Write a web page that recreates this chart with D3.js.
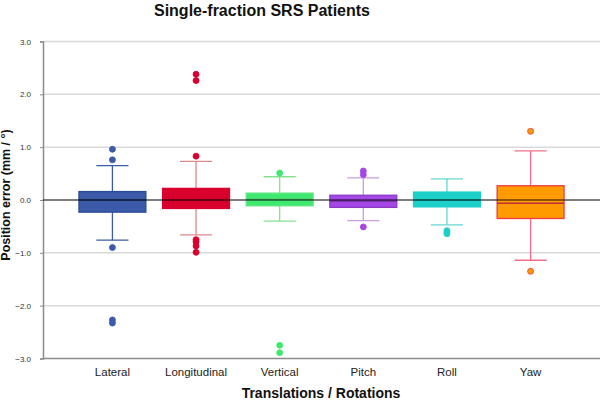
<!DOCTYPE html>
<html>
<head>
<meta charset="utf-8">
<script src="https://cdn.jsdelivr.net/npm/d3@7"></script>
<style>
  body { margin: 0; background: #fff; }
  svg text { font-family: Arial, "Liberation Sans", sans-serif; }
</style>
</head>
<body>
<div class="viz"></div>
<script>
const width = 600;
const height = 404;

// data (mm / degrees)
const categories = ["Lateral", "Longitudinal", "Vertical", "Pitch", "Roll", "Yaw"];
const q1 = [-0.23, -0.16, -0.11, -0.14, -0.13, -0.35];
const medians = [0.0, 0.0, 0.01, -0.02, 0.0, -0.06];
const q3 = [0.16, 0.22, 0.13, 0.09, 0.15, 0.27];
const whiskerLow = [-0.76, -0.66, -0.40, -0.39, -0.47, -1.14];
const whiskerHigh = [0.65, 0.73, 0.44, 0.42, 0.40, 0.93];
const outliers = [
    [0.96, 0.76, -0.90, -2.27, -2.33],
    [2.38, 2.26, 0.83, -0.75, -0.79, -0.87, -0.99],
    [0.51, -2.75, -2.89],
    [0.55, 0.48, -0.51],
    [-0.58, -0.61, -0.64],
    [1.30, -1.35]
];
const yTicks = [-3, -2, -1, 0, 1, 2, 3];

const fills = ["#3b5ba9", "#d9002e", "#3fe870", "#a447e6", "#1ccfc8", "#ff9a00"];
const strokes = ["#2d4a98", "#d9002e", "#5ee87f", "#8a3bc4", "#1ccfc8", "#ee3b45"];
const whiskerColors = ["#3b5ba9", "#d88a8c", "#86e08f", "#c99de0", "#62d8d0", "#ee6f87"];
const dotStrokes = ["#3b5ba9", "#d9002e", "#3fe870", "#a447e6", "#1ccfc8", "#ee3b45"];

const margin = { top: 41.5, right: 0, bottom: 45.5, left: 43 };

const svg = d3.select(".viz")
    .append("svg")
    .attr("width", width)
    .attr("height", height);

const x = d3.scaleBand()
    .domain(categories)
    .range([margin.left, width - margin.right])
    .paddingOuter(0.33)
    .paddingInner(0);

const y = d3.scaleLinear()
    .domain([-3, 3])
    .range([height - margin.bottom, margin.top]);

// gridlines
svg.selectAll(".grid")
    .data(yTicks.filter(d => d !== -3))
    .enter()
    .append("line")
    .attr("x1", margin.left)
    .attr("x2", width - margin.right)
    .attr("y1", d => y(d))
    .attr("y2", d => y(d))
    .style("stroke", "#d9d9d9")
    .style("stroke-width", 1.5);

// y axis
const yAxis = svg.append("g")
    .attr("transform", `translate(${margin.left},0)`)
    .call(d3.axisLeft(y).tickValues(yTicks).tickFormat(d3.format(".1f")).tickSize(3));
yAxis.select(".domain").style("stroke", "#8c8c8c").style("stroke-width", 1.5);
yAxis.selectAll(".tick line").style("stroke", "#8c8c8c");
yAxis.selectAll(".tick text")
    .attr("x", -12)
    .style("font-size", "8px")
    .style("fill", "#333");

// x axis
const xAxis = svg.append("g")
    .attr("transform", `translate(0,${y(-3)})`)
    .call(d3.axisBottom(x).tickSize(0));
xAxis.select(".domain").attr("d", `M${margin.left},0H${width}`)
    .style("stroke", "#8c8c8c").style("stroke-width", 1.5);
xAxis.selectAll(".tick text")
    .attr("dy", "0")
    .attr("y", 17)
    .style("font-size", "11.5px")
    .style("fill", "#222");

const boxW = x.bandwidth() * 0.8;
const capW = boxW * 0.48;

const boxes = svg.selectAll(".box")
    .data(categories)
    .enter()
    .append("g")
    .attr("class", "box")
    .attr("transform", d => `translate(${x(d) + x.bandwidth() / 2},0)`);

// whiskers
boxes.append("line")
    .attr("y1", (d, i) => y(whiskerHigh[i]))
    .attr("y2", (d, i) => y(q3[i]))
    .style("stroke", (d, i) => whiskerColors[i])
    .style("stroke-width", 1.3);
boxes.append("line")
    .attr("y1", (d, i) => y(whiskerLow[i]))
    .attr("y2", (d, i) => y(q1[i]))
    .style("stroke", (d, i) => whiskerColors[i])
    .style("stroke-width", 1.3);
[whiskerHigh, whiskerLow].forEach(arr => {
    boxes.append("line")
        .attr("x1", -capW / 2)
        .attr("x2", capW / 2)
        .attr("y1", (d, i) => y(arr[i]))
        .attr("y2", (d, i) => y(arr[i]))
        .style("stroke", (d, i) => whiskerColors[i])
        .style("stroke-width", 1.3);
});

// boxes
boxes.append("rect")
    .attr("x", -boxW / 2)
    .attr("width", boxW)
    .attr("y", (d, i) => y(q3[i]))
    .attr("height", (d, i) => y(q1[i]) - y(q3[i]))
    .style("fill", (d, i) => fills[i])
    .style("stroke", (d, i) => strokes[i])
    .style("stroke-width", 1.3);

// medians
boxes.append("line")
    .attr("x1", -boxW / 2)
    .attr("x2", boxW / 2)
    .attr("y1", (d, i) => y(medians[i]))
    .attr("y2", (d, i) => y(medians[i]))
    .style("stroke", (d, i) => strokes[i])
    .style("stroke-width", 1.5)
    .style("filter", "brightness(0.8)");

// outliers
boxes.each(function (d, i) {
    d3.select(this).selectAll("circle")
        .data(outliers[i])
        .enter()
        .append("circle")
        .attr("cx", 0)
        .attr("cy", v => y(v))
        .attr("r", 3)
        .style("fill", fills[i])
        .style("stroke", dotStrokes[i])
        .style("stroke-width", 0.8);
});

// zero reference line
svg.append("line")
    .attr("x1", margin.left)
    .attr("x2", width)
    .attr("y1", y(0))
    .attr("y2", y(0))
    .style("stroke", "#000")
    .style("stroke-opacity", 0.6)
    .style("stroke-width", 1.5);

// titles
svg.append("text")
    .attr("x", 262)
    .attr("y", 16)
    .attr("text-anchor", "middle")
    .style("font-size", "16px")
    .style("font-weight", "bold")
    .style("fill", "#111")
    .text("Single-fraction SRS Patients");

svg.append("text")
    .attr("x", 321)
    .attr("y", 398)
    .attr("text-anchor", "middle")
    .style("font-size", "14px")
    .style("font-weight", "bold")
    .style("fill", "#111")
    .text("Translations / Rotations");

svg.append("text")
    .attr("transform", `translate(6,195) rotate(-90)`)
    .attr("text-anchor", "middle")
    .attr("dy", "0.35em")
    .style("font-size", "12.5px")
    .style("font-weight", "bold")
    .style("fill", "#111")
    .text("Position error (mm / °)");
</script>
</body>
</html>
